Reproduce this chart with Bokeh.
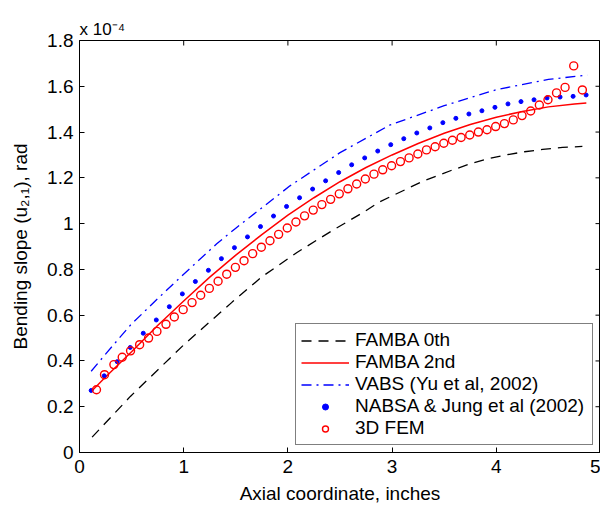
from math import pi
from bokeh.plotting import figure
from bokeh.models import (Range1d, FixedTicker, CustomJSTickFormatter, Legend, LegendItem)
from bokeh.embed import file_html
from bokeh.resources import INLINE

# ---------------- data (y in units of 1e-4 rad) ----------------
x_famba0 = [0.121, 0.488, 1.0, 1.465, 1.752, 2.087, 2.406, 2.726, 2.88, 3.295, 3.566,
            3.742, 3.917, 4.093, 4.27, 4.445, 4.636, 4.826]
y_famba0 = [0.067, 0.245, 0.47, 0.657, 0.768, 0.874, 0.964, 1.05, 1.095, 1.185, 1.232,
            1.26, 1.283, 1.300, 1.314, 1.324, 1.333, 1.337]

x_famba2 = [0.12, 0.25, 0.5, 0.75, 1.0, 1.25, 1.5, 1.75, 2.0, 2.25, 2.5, 2.75, 3.0,
            3.25, 3.5, 3.75, 4.0, 4.25, 4.5, 4.75, 4.864]
y_famba2 = [0.27, 0.33, 0.44, 0.555, 0.662, 0.766, 0.862, 0.952, 1.037, 1.113, 1.183,
            1.245, 1.30, 1.35, 1.395, 1.433, 1.465, 1.49, 1.51, 1.523, 1.527]

x_vabs = [0.112, 0.25, 0.49, 0.727, 0.967, 1.317, 1.5, 2.02, 2.5, 2.976, 3.5, 4.0, 4.5, 4.874]
y_vabs = [0.355, 0.43, 0.557, 0.662, 0.765, 0.912, 0.98, 1.165, 1.31, 1.43, 1.515, 1.585,
          1.63, 1.649]

x_nabsa = [0.112, 0.237, 0.362, 0.487, 0.612, 0.737, 0.862, 0.987, 1.112, 1.237, 1.362,
           1.487, 1.612, 1.737, 1.862, 1.987, 2.112, 2.237, 2.362, 2.487, 2.612, 2.737,
           2.862, 2.987, 3.112, 3.237, 3.362, 3.487, 3.612, 3.737, 3.862, 3.987, 4.112,
           4.237, 4.362, 4.487, 4.612, 4.737, 4.862]
y_nabsa = [0.271, 0.335, 0.397, 0.459, 0.521, 0.579, 0.637, 0.693, 0.747, 0.796, 0.847,
           0.895, 0.942, 0.987, 1.033, 1.075, 1.113, 1.151, 1.187, 1.223, 1.257, 1.287,
           1.317, 1.345, 1.371, 1.396, 1.418, 1.441, 1.460, 1.479, 1.493, 1.508, 1.523,
           1.533, 1.541, 1.549, 1.553, 1.556, 1.562]

x_fem = [0.163, 0.24, 0.33, 0.41, 0.49, 0.577, 0.663, 0.743, 0.83, 0.91, 0.995, 1.08,
         1.163, 1.246, 1.33, 1.413, 1.496, 1.579, 1.662, 1.745, 1.828, 1.911, 1.994,
         2.077, 2.16, 2.243, 2.326, 2.41, 2.493, 2.576, 2.66, 2.743, 2.826, 2.91, 2.995,
         3.08, 3.163, 3.247, 3.33, 3.413, 3.496, 3.579, 3.662, 3.745, 3.828, 3.911,
         3.994, 4.078, 4.163, 4.247, 4.33, 4.413, 4.496, 4.578, 4.66, 4.743, 4.826]
y_fem = [0.274, 0.340, 0.384, 0.416, 0.444, 0.471, 0.500, 0.529, 0.560, 0.592, 0.624,
         0.655, 0.687, 0.717, 0.748, 0.779, 0.809, 0.838, 0.869, 0.897, 0.925, 0.953,
         0.981, 1.007, 1.034, 1.059, 1.083, 1.106, 1.130, 1.152, 1.173, 1.195, 1.216,
         1.235, 1.253, 1.271, 1.287, 1.304, 1.322, 1.336, 1.351, 1.364, 1.376, 1.387,
         1.400, 1.410, 1.424, 1.437, 1.453, 1.472, 1.492, 1.518, 1.541, 1.571, 1.595,
         1.689, 1.584]

x_ticks = [0, 1, 2, 3, 4, 5]
y_ticks = [0, 0.2, 0.4, 0.6, 0.8, 1.0, 1.2, 1.4, 1.6, 1.8]
x_min, x_max = 0, 5
y_min, y_max = 0, 1.8

legend_labels = ["FAMBA 0th", "FAMBA 2nd", "VABS (Yu et al, 2002)",
                 "NABSA & Jung et al (2002)", "3D FEM"]

FONT = "Liberation Sans"
FS = "19px"

p = figure(width=600, height=506, output_backend="svg", toolbar_location=None,
           x_range=Range1d(x_min, x_max), y_range=Range1d(y_min, y_max),
           min_border_left=79, min_border_right=0, min_border_top=40,
           min_border_bottom=54)
p.background_fill_color = "white"
p.border_fill_color = "white"
p.outline_line_color = "black"
p.outline_line_width = 1
p.grid.visible = False

# exponent as title
p.title.text = "x 10\u207b\u2074"
p.title.align = "left"
p.title.offset = 0
p.title.standoff = 4
p.title.text_font = FONT
p.title.text_font_size = "17px"
p.title.text_font_style = "normal"
p.title.text_color = "black"

for ax in (p.xaxis[0], p.yaxis[0]):
    ax.major_tick_in = 5
    ax.major_tick_out = 0
    ax.minor_tick_line_color = None
    ax.axis_line_color = "black"
    ax.major_tick_line_color = "black"
    ax.major_label_text_font = FONT
    ax.major_label_text_font_size = FS
    ax.major_label_text_color = "black"
    ax.axis_label_text_font = FONT
    ax.axis_label_text_font_size = FS
    ax.axis_label_text_font_style = "normal"
    ax.axis_label_text_color = "black"

p.xaxis.ticker = FixedTicker(ticks=x_ticks)
p.yaxis.ticker = FixedTicker(ticks=y_ticks)
p.yaxis.formatter = CustomJSTickFormatter(code="return (Math.round(tick*10)/10).toString();")
p.xaxis.major_label_standoff = 7
p.yaxis.major_label_standoff = 6
p.xaxis.axis_label = "Axial coordinate, inches"
p.xaxis.axis_label_standoff = 7
p.yaxis.axis_label = "Bending slope (u\u2082,\u2081), rad"
p.yaxis.axis_label_standoff = 13

# inward tick marks on the top and right edges (at the same tick positions)
p.ray(x=x_ticks, y=[y_max] * len(x_ticks), length=5, length_units="screen",
      angle=-pi / 2, line_color="black", line_width=1)
p.ray(x=[x_max] * len(y_ticks), y=y_ticks, length=5, length_units="screen",
      angle=pi, line_color="black", line_width=1)

r0 = p.line(x_famba0, y_famba0, line_color="black", line_width=1.3, line_dash="10 7")
r2 = p.line(x_famba2, y_famba2, line_color="red", line_width=1.5)
rv = p.line(x_vabs, y_vabs, line_color="blue", line_width=1.3, line_dash="10 5 2 5")
rn = p.scatter(x_nabsa, y_nabsa, marker="circle", size=4, fill_color="blue",
               line_color="blue")
rf = p.scatter(x_fem, y_fem, marker="circle", size=8, fill_color=None,
               line_color="red", line_width=1.4)

legend = Legend(items=[LegendItem(label=l, renderers=[r]) for l, r in
                       zip(legend_labels, [r0, r2, rv, rn, rf])],
                location="bottom_right", margin=7, padding=5, spacing=-1,
                glyph_width=48, glyph_height=15, label_height=22, label_standoff=6,
                label_width=232,
                label_text_font=FONT, label_text_font_size=FS,
                label_text_color="black", border_line_color="black",
                border_line_width=1, background_fill_color="white",
                background_fill_alpha=1.0)
p.add_layout(legend)

open("out.html", "w").write(file_html(p, INLINE))
